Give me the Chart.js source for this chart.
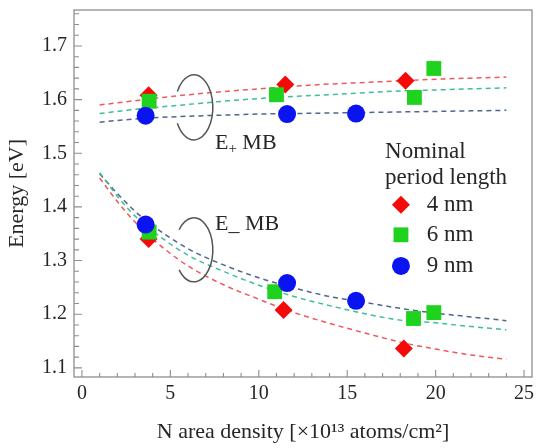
<!DOCTYPE html>
<html>
<head>
<meta charset="utf-8">
<script src="https://cdn.jsdelivr.net/npm/chart.js@4"></script>
<style>
  html, body { margin: 0; padding: 0; background: #fff; }
</style>
</head>
<body>
<canvas id="energy-chart" width="536" height="448"></canvas>
<script>
// tick labels
const xTicks = [0, 5, 10, 15, 20, 25];
const yTicks = [1.1, 1.2, 1.3, 1.4, 1.5, 1.6, 1.7];

// measured points (x = N area density, y = energy)
const x4nm = [3.77, 11.5, 18.3, 3.77, 11.4, 18.2];
const y4nm = [1.608, 1.628, 1.635, 1.340, 1.208, 1.136];
const x6nm = [3.8, 11.0, 18.8, 19.9, 3.8, 10.9, 18.75, 19.9];
const y6nm = [1.597, 1.609, 1.604, 1.658, 1.353, 1.242, 1.192, 1.203];
const x9nm = [3.6, 11.6, 15.5, 3.6, 11.6, 15.5];
const y9nm = [1.570, 1.573, 1.574, 1.367, 1.258, 1.225];

// fitted curves
const fitX = [1, 2, 3, 4, 6, 8, 10, 12, 14, 16, 18, 20, 22, 24];
const fitPlus4 = [1.590, 1.594, 1.598, 1.602, 1.609, 1.615, 1.620, 1.625, 1.629, 1.632, 1.635, 1.638, 1.640, 1.642];
const fitPlus6 = [1.574, 1.578, 1.582, 1.585, 1.591, 1.597, 1.602, 1.606, 1.609, 1.613, 1.616, 1.618, 1.620, 1.622];
const fitPlus9 = [1.558, 1.561, 1.564, 1.566, 1.569, 1.571, 1.573, 1.574, 1.575, 1.576, 1.577, 1.578, 1.579, 1.580];
const fitMinus4 = [1.454, 1.410, 1.372, 1.340, 1.290, 1.255, 1.228, 1.203, 1.183, 1.165, 1.148, 1.135, 1.124, 1.116];
const fitMinus6 = [1.464, 1.420, 1.383, 1.355, 1.310, 1.280, 1.254, 1.233, 1.216, 1.201, 1.189, 1.184, 1.177, 1.171];
const fitMinus9 = [1.462, 1.425, 1.392, 1.365, 1.322, 1.292, 1.268, 1.249, 1.233, 1.222, 1.211, 1.202, 1.195, 1.188];

const legendTitle = ['Nominal', 'period length'];
const legendLabels = ['4 nm', '6 nm', '9 nm'];

const RED = '#f50a0a', GREEN = '#1ed21e', BLUE = '#0a14f0';
const FONT = "'Liberation Serif', 'Times New Roman', serif";
const TEXT = '#262626';

const pts = (xs, ys) => xs.map((v, i) => ({ x: v, y: ys[i] }));

function markers(label, xs, ys, color, style, r) {
  return {
    label, data: pts(xs, ys), showLine: false,
    pointStyle: style, pointRadius: r, pointHoverRadius: r,
    backgroundColor: color, borderWidth: 0
  };
}
function fitLine(ys, color) {
  return {
    label: 'fit', data: pts(fitX, ys), showLine: true,
    borderColor: color, borderWidth: 1.5, borderDash: [5, 4],
    pointRadius: 0, cubicInterpolationMode: 'monotone', fill: false
  };
}

const decor = {
  id: 'decor',
  beforeDatasetsDraw(chart) {
    const { ctx, chartArea: a, scales: { x, y } } = chart;
    ctx.save();
    ctx.strokeStyle = '#8e8e8e';
    ctx.lineWidth = 1.3;
    ctx.strokeRect(a.left, a.top, a.right - a.left, a.bottom - a.top);
    ctx.lineWidth = 1.1;
    ctx.beginPath();
    for (let v = xTicks[0]; v <= xTicks[xTicks.length - 1] + 1e-9; v += 1) {
      const px = x.getPixelForValue(v);
      const len = Math.abs(v % 5) < 1e-9 ? 7 : 4;
      ctx.moveTo(px, a.bottom); ctx.lineTo(px, a.bottom - len);
    }
    for (let k = 0; k <= 33; k++) {
      const v = 1.1 + k * 0.02;
      const py = y.getPixelForValue(v);
      if (py < a.top) break;
      const len = k % 5 === 0 ? 8 : 5;
      ctx.moveTo(a.left, py); ctx.lineTo(a.left + len, py);
    }
    ctx.stroke();
    ctx.restore();
  },
  afterDatasetsDraw(chart) {
    const { ctx, scales: { x, y } } = chart;
    ctx.save();
    // ellipses marking the two branches
    ctx.strokeStyle = '#555';
    ctx.lineWidth = 1.5;
    [[6.33, 1.5855, 0.0605, 0.51], [6.33, 1.320, 0.0596, 0.68]].forEach(([cx, cy, dy, gap]) => {
      const px = x.getPixelForValue(cx), py = y.getPixelForValue(cy);
      const rx = x.getPixelForValue(cx + 1.07) - px;
      const ry = py - y.getPixelForValue(cy + dy);
      ctx.beginPath();
      ctx.ellipse(px, py, rx, ry, 0, Math.PI + gap, Math.PI - gap + 2 * Math.PI);
      ctx.stroke();
    });
    ctx.fillStyle = TEXT;
    ctx.textBaseline = 'middle';
    ctx.textAlign = 'left';
    // E+ MB
    let tx = x.getPixelForValue(7.52), ty = y.getPixelForValue(1.519);
    ctx.font = '22px ' + FONT;
    ctx.fillText('E', tx, ty);
    tx += ctx.measureText('E').width;
    ctx.font = '15px ' + FONT;
    ctx.fillText('+', tx, ty + 6);
    tx += ctx.measureText('+').width;
    ctx.font = '22px ' + FONT;
    ctx.fillText(' MB', tx, ty);
    // E- MB
    ctx.fillText('E_ MB', x.getPixelForValue(7.52), y.getPixelForValue(1.367));

    // legend
    ctx.font = '23px ' + FONT;
    const lx = x.getPixelForValue(17.14);
    ctx.fillText(legendTitle[0], lx, y.getPixelForValue(1.503));
    ctx.fillText(legendTitle[1], lx, y.getPixelForValue(1.454));
    const rows = [1.404, 1.348, 1.290];
    const sets = [2, 1, 0];
    legendLabels.forEach((lab, i) => {
      const ds = chart.data.datasets[sets[i]];
      const my = y.getPixelForValue(rows[i]);
      ctx.fillStyle = ds.backgroundColor;
      Chart.helpers.drawPoint(ctx, { pointStyle: ds.pointStyle, radius: ds.pointRadius, rotation: 0, borderWidth: 0 },
        x.getPixelForValue(18.04), my);
      ctx.fillStyle = TEXT;
      ctx.fillText(lab, x.getPixelForValue(19.5), my);
    });
    ctx.restore();
  }
};

new Chart(document.getElementById('energy-chart').getContext('2d'), {
  type: 'scatter',
  data: {
    datasets: [
      markers('9 nm', x9nm, y9nm, BLUE, 'circle', 9),
      markers('6 nm', x6nm, y6nm, GREEN, 'rect', 10.5),
      markers('4 nm', x4nm, y4nm, RED, 'rectRot', 9),
      fitLine(fitPlus4, '#f0595b'),
      fitLine(fitPlus6, '#3cbf98'),
      fitLine(fitPlus9, '#4f6590'),
      fitLine(fitMinus4, '#f0595b'),
      fitLine(fitMinus6, '#3cbf98'),
      fitLine(fitMinus9, '#4f6590')
    ]
  },
  options: {
    responsive: false,
    animation: false,
    layout: { autoPadding: false, padding: { left: 0, top: 10, right: 4, bottom: 0 } },
    plugins: { legend: { display: false }, tooltip: { enabled: false } },
    scales: {
      x: {
        type: 'linear', min: -0.45, max: 25.45,
        afterBuildTicks: s => { s.ticks = xTicks.map(v => ({ value: v })); },
        afterFit: s => { s.height = 71; s.paddingLeft = 0; s.paddingRight = 0; },
        grid: { display: false, drawTicks: false },
        border: { display: false },
        ticks: { color: TEXT, font: { family: FONT, size: 20 }, padding: 5, maxRotation: 0 },
        title: { display: true, text: 'N area density [×10¹³ atoms/cm²]', color: TEXT,
                 font: { family: FONT, size: 22 }, padding: { top: 0, bottom: 3 } }
      },
      y: {
        type: 'linear', min: 1.083, max: 1.767,
        afterBuildTicks: s => { s.ticks = yTicks.map(v => ({ value: v })); },
        afterFit: s => { s.width = 74; s.paddingTop = 0; s.paddingBottom = 0; },
        grid: { display: false, drawTicks: false },
        border: { display: false },
        ticks: { color: TEXT, font: { family: FONT, size: 20 }, padding: 7,
                 callback: v => v.toFixed(1) },
        title: { display: true, text: 'Energy [eV]', color: TEXT,
                 font: { family: FONT, size: 22 }, padding: { top: 4, bottom: 0 } }
      }
    }
  },
  plugins: [decor]
});
</script>
</body>
</html>
